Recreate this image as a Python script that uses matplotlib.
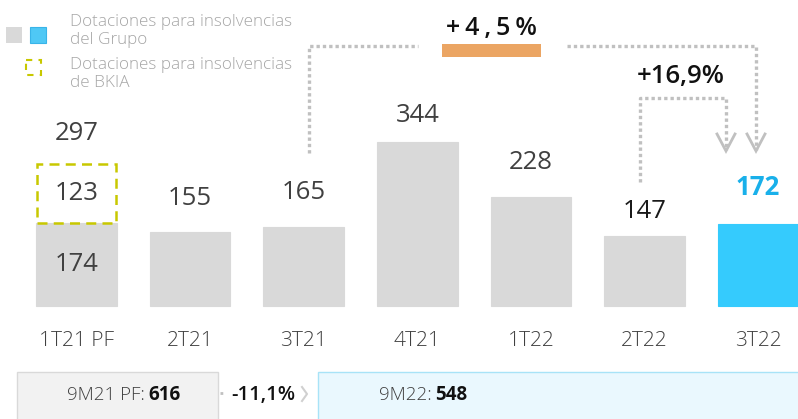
import matplotlib.pyplot as plt
from matplotlib.patches import Rectangle

plt.rcParams['font.family'] = ['Open Sans', 'DejaVu Sans']

# -------------------------------
# DATA
# -------------------------------
quarters = ["1T21 PF", "2T21", "3T21", "4T21", "1T22", "2T22", "3T22"]
grupo = [174, 155, 165, 344, 228, 147, 172]
bkia = [123, 0, 0, 0, 0, 0, 0]
totals = [g + b for g, b in zip(grupo, bkia)]

legend_grupo = "Dotaciones para insolvencias\ndel Grupo"
legend_bkia = "Dotaciones para insolvencias\nde BKIA"

change_year = "+\u20094\u2009,\u20095\u2009%"
change_quarter = "+16,9%"
ytd_prev_label, ytd_prev = "9M21 PF:", 616
ytd_curr_label, ytd_curr = "9M22:", 548
ytd_change = "-11,1%"

# -------------------------------
# STYLE
# -------------------------------
GREY = "#d9d9d9"
BLUE = "#35cbfd"
BLUE_TXT = "#19b0ea"
YELLOW = "#c8c800"
DOT = "#c0c0c0"
TXT = "#404040"

W, H = 798, 419
fig = plt.figure(figsize=(W / 100, H / 100), dpi=100)

# bars: full-figure axes, baseline at 306 px from the top
px_unit = 0.477
step = 113.6
ax = fig.add_axes([0, 0, 1, 1])
ax.set_xlim(-76.5 / step, (W - 76.5) / step)
ax.set_ylim(-(H - 306) / px_unit, 306 / px_unit)
ax.axis("off")

# overlay in pixel coordinates (y downwards) for decorations
ov = fig.add_axes([0, 0, 1, 1], zorder=3)
ov.set_xlim(0, W)
ov.set_ylim(H, 0)
ov.axis("off")
ov.patch.set_alpha(0)

x = list(range(len(quarters)))
colors = [GREY] * (len(quarters) - 1) + [BLUE]
bw = 0.71
ax.bar(x, grupo, width=bw, color=colors, edgecolor=colors, linewidth=0.8)
ax.bar(x[0], bkia[0], bottom=grupo[0], width=bw - 0.02, fill=False,
       edgecolor=YELLOW, linewidth=1.8, linestyle=(0, (4, 2.5)))

# value labels
gaps = [31, 34, 35, 26, 35, 24, 36]
for i, t in enumerate(totals):
    last = i == len(totals) - 1
    c = BLUE_TXT if last else ("#1a1a1a" if i == 5 else TXT)
    ax.annotate(str(t), (i, t), xytext=(0, gaps[i] * 0.72), textcoords="offset points",
                ha="center", va="center", fontsize=18.5, color=c,
                fontweight="bold" if last else "normal")
ax.text(0, grupo[0] + bkia[0] / 2, str(bkia[0]), ha="center", va="center",
        fontsize=18.5, color=TXT)
ax.text(0, grupo[0] / 2, str(grupo[0]), ha="center", va="center",
        fontsize=18.5, color=TXT)

# category labels
for i, q in enumerate(quarters):
    ax.text(i, -(341 - 306) / px_unit, q, ha="center", va="center",
            fontsize=15, color=TXT, fontweight="light")

# -------------------------------
# CONNECTORS
# -------------------------------
dot = dict(color=DOT, lw=2.4, linestyle=(0, (1, 0.9)), solid_capstyle="butt")
ov.plot([309, 309, 418], [153, 46, 46], **dot)
ov.plot([567, 756, 756], [46, 46, 150], **dot)
ov.plot([640, 640, 726, 726], [182, 98, 98, 150], **dot)
for ax_x in (726, 756):
    ov.plot([ax_x - 9, ax_x, ax_x + 9], [134, 151, 134], color=DOT, lw=2,
            solid_joinstyle="miter")

ov.add_patch(Rectangle((442, 44), 99, 13, color="#eba563", lw=0))
ov.text(491, 28, change_year, ha="center", va="center", fontsize=18,
        fontweight="semibold", color="#111111")
ov.text(681, 77, change_quarter, ha="center", va="center", fontsize=18.5,
        fontweight="semibold", color="#111111")

# -------------------------------
# LEGEND
# -------------------------------
ov.add_patch(Rectangle((6, 27), 16, 16, color=GREY, lw=0))
ov.add_patch(Rectangle((30, 27), 16, 16, facecolor="#4fc8f5", edgecolor="#39b4e8", lw=0.8))
ov.add_patch(Rectangle((26, 60), 15, 15, fill=False, edgecolor=YELLOW, lw=1.5,
                       linestyle=(0, (3, 3))))
ov.text(70, 31, legend_grupo, ha="left", va="center", fontsize=12.3,
        color="#a6a6a6", fontweight="light", linespacing=1.2)
ov.text(70, 74, legend_bkia, ha="left", va="center", fontsize=12.3,
        color="#a6a6a6", fontweight="light", linespacing=1.2)

# -------------------------------
# YEAR-TO-DATE BOXES
# -------------------------------
ov.add_patch(Rectangle((17, 372), 201, 50, facecolor="#f2f2f2", edgecolor="#d9d9d9", lw=1))
ov.add_patch(Rectangle((318, 372), 490, 50, facecolor="#eaf8fe", edgecolor="#a8e3f7", lw=1))
ov.text(145, 395, ytd_prev_label, ha="right", va="center", fontsize=13.5,
        color=TXT, fontweight="light")
ov.text(148, 395, str(ytd_prev), ha="left", va="center", fontsize=13.5,
        color="#111111", fontweight="bold")
ov.text(432, 395, ytd_curr_label, ha="right", va="center", fontsize=13.5,
        color=TXT, fontweight="light")
ov.text(435, 395, str(ytd_curr), ha="left", va="center", fontsize=13.5,
        color="#111111", fontweight="bold")
ov.text(263, 395, ytd_change, ha="center", va="center", fontsize=14.5,
        color="#111111", fontweight="semibold")
ov.plot([220, 225], [393, 393], color=DOT, lw=2, linestyle=(0, (1, 1.5)))
ov.plot([302, 307, 302], [387, 394, 401], color="#d0d0d0", lw=1.5)

fig.savefig("out.png", dpi=100)
